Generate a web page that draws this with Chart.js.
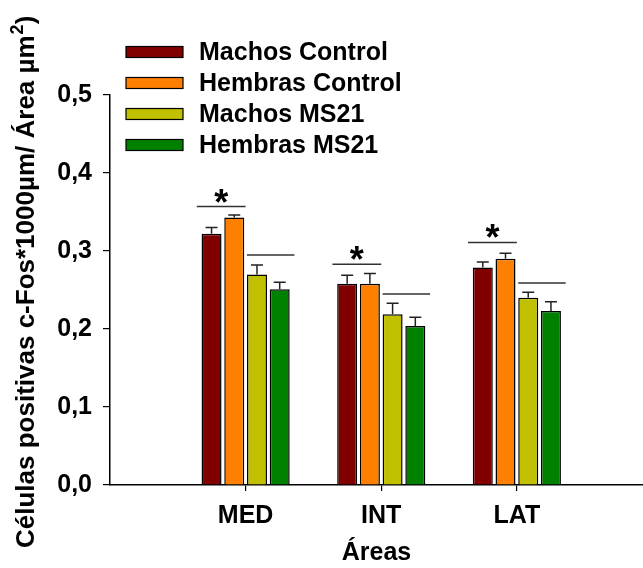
<!DOCTYPE html>
<html>
<head>
<meta charset="utf-8">
<script src="https://cdn.jsdelivr.net/npm/chart.js@4.4.1/dist/chart.umd.min.js"></script>
<style>
  html, body { margin: 0; padding: 0; background: #fff; }
  canvas { display: block; }
</style>
</head>
<body>
<canvas id="chart" width="643" height="568"></canvas>
<script>
// categories (x position 1, 2, 3)
const areas = ['MED', 'INT', 'LAT'];
const seriesNames = ['Machos Control', 'Hembras Control', 'Machos MS21', 'Hembras MS21'];
const seriesColors = ['#800000', '#ff8000', '#c0c000', '#008000'];

// mean values per series
const machosControl = [0.322, 0.258, 0.279];
const hembrasControl = [0.343, 0.258, 0.290];
const machosMS21 = [0.270, 0.219, 0.240];
const hembrasMS21 = [0.251, 0.204, 0.223];

// top of the error bars
const machosControlErr = [0.330, 0.269, 0.286];
const hembrasControlErr = [0.346, 0.271, 0.297];
const machosMS21Err = [0.282, 0.233, 0.247];
const hembrasMS21Err = [0.260, 0.215, 0.235];

// significance lines (controls with star, MS21 without)
const sigControl = [0.357, 0.283, 0.311];
const sigMS21 = [0.295, 0.245, 0.259];

const yTicks = [0, 0.1, 0.2, 0.3, 0.4, 0.5];

const values = [machosControl, hembrasControl, machosMS21, hembrasMS21];
const errs = [machosControlErr, hembrasControlErr, machosMS21Err, hembrasMS21Err];

const FONT = '"Liberation Sans", Arial, sans-serif';

// error bars, significance marks, legend and y title
const extras = {
  id: 'extras',
  afterDatasetsDraw(chart) {
    const ctx = chart.ctx;
    const x = chart.scales.x, y = chart.scales.y;
    ctx.save();
    ctx.strokeStyle = '#222';
    ctx.lineWidth = 1.5;
    chart.data.datasets.forEach((ds, i) => {
      const meta = chart.getDatasetMeta(i);
      meta.data.forEach((bar, j) => {
        const top = y.getPixelForValue(errs[i][j]);
        ctx.beginPath();
        ctx.moveTo(bar.x, bar.y);
        ctx.lineTo(bar.x, top);
        ctx.moveTo(bar.x - 6, top);
        ctx.lineTo(bar.x + 6, top);
        ctx.stroke();
      });
    });

    ctx.strokeStyle = '#333';
    ctx.fillStyle = '#000';
    ctx.font = 'bold 36px ' + FONT;
    ctx.textAlign = 'center';
    ctx.textBaseline = 'alphabetic';
    areas.forEach((a, j) => {
      const c = j + 1;
      const y1 = y.getPixelForValue(sigControl[j]);
      const y2 = y.getPixelForValue(sigMS21[j]);
      ctx.beginPath();
      ctx.moveTo(x.getPixelForValue(c - 0.36), y1);
      ctx.lineTo(x.getPixelForValue(c), y1);
      ctx.moveTo(x.getPixelForValue(c + 0.01), y2);
      ctx.lineTo(x.getPixelForValue(c + 0.36), y2);
      ctx.stroke();
      ctx.fillText('*', x.getPixelForValue(c - 0.18), y1 + 8);
    });
    ctx.restore();
  },
  afterDraw(chart) {
    const ctx = chart.ctx;
    ctx.save();
    // legend
    ctx.font = 'bold 25px ' + FONT;
    ctx.textBaseline = 'middle';
    ctx.textAlign = 'left';
    chart.data.datasets.forEach((ds, i) => {
      const cy = 52 + i * 31;
      ctx.fillStyle = ds.backgroundColor;
      ctx.fillRect(126, cy - 5.5, 57, 11);
      ctx.strokeStyle = '#000';
      ctx.lineWidth = 1.2;
      ctx.strokeRect(126, cy - 5.5, 57, 11);
      ctx.fillStyle = '#000';
      ctx.fillText(ds.label, 199, cy + 1);
    });

    // y axis title with superscript
    ctx.translate(34, 548);
    ctx.rotate(-Math.PI / 2);
    ctx.textBaseline = 'alphabetic';
    const main = 'Células positivas c-Fos*1000µm/ Área µm';
    ctx.font = 'bold 26px ' + FONT;
    ctx.fillText(main, 0, 0);
    let w = ctx.measureText(main).width;
    ctx.font = 'bold 18px ' + FONT;
    ctx.fillText('2', w + 1, -11);
    w += ctx.measureText('2').width + 1;
    ctx.font = 'bold 26px ' + FONT;
    ctx.fillText(')', w, 0);
    ctx.restore();
  }
};

const datasets = seriesNames.map((name, i) => ({
  label: name,
  data: values[i].map((v, j) => ({ x: j + 1, y: v })),
  backgroundColor: seriesColors[i],
  borderColor: '#000',
  borderWidth: 1.5,
  categoryPercentage: 0.67,
  barPercentage: 0.88
}));

new Chart(document.getElementById('chart'), {
  type: 'bar',
  data: { datasets },
  options: {
    responsive: false,
    animation: false,
    layout: { padding: { top: 95, right: 0, left: 0, bottom: 0 } },
    plugins: {
      legend: { display: false },
      tooltip: { enabled: false }
    },
    scales: {
      x: {
        type: 'linear',
        offset: false,
        min: 0,
        max: 3.93,
        afterBuildTicks(scale) {
          scale.ticks = areas.map((a, j) => ({ value: j + 1 }));
        },
        afterFit(scale) { scale.height = 83; },
        grid: { offset: false, drawOnChartArea: false, tickLength: 6, color: '#000', lineWidth: 1.2 },
        border: { color: '#000', width: 1.5 },
        ticks: {
          color: '#000',
          font: { family: FONT, size: 25, weight: 'bold' },
          padding: 10,
          maxRotation: 0,
          callback: (v) => areas[v - 1] || ''
        },
        title: {
          display: true,
          text: 'Áreas',
          color: '#000',
          font: { family: FONT, size: 25, weight: 'bold' },
          padding: { top: 0, bottom: 0 }
        }
      },
      y: {
        min: 0,
        max: 0.5,
        afterBuildTicks(scale) {
          scale.ticks = yTicks.map(v => ({ value: v }));
        },
        afterFit(scale) { scale.width = 110; },
        grid: { drawOnChartArea: false, tickLength: 7, color: '#000', lineWidth: 1.2 },
        border: { color: '#000', width: 1.5 },
        ticks: {
          color: '#000',
          font: { family: FONT, size: 25, weight: 'bold' },
          padding: 11,
          callback: (v) => v.toFixed(1).replace('.', ',')
        }
      }
    }
  },
  plugins: [extras]
});
</script>
</body>
</html>
